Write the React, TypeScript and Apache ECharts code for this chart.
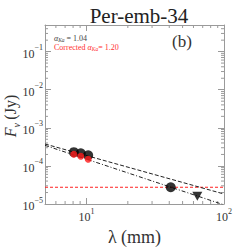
import React, { useEffect, useRef } from "react";
import * as echarts from "echarts";

// ---- data ----
const kaWavelength = [8.1, 9.1, 10.3]; // mm
const kaFlux = [2.3e-4, 2.15e-4, 1.9e-4]; // Jy
const kaFluxCorrected = [2.03e-4, 1.8e-4, 1.5e-4]; // Jy
const cBandWavelength = [41];
const cBandFlux = [2.75e-5];
const upperLimitWavelength = [64];
const upperLimitFlux = [1.6e-5];
const fitLambda = [5, 100];
const fitFlux = [3.76e-4, 1.83e-5]; // alpha = 1.04
const correctedFitFlux = [3.46e-4, 9.5e-6]; // alpha = 1.20
const freeFreeLevel = 2.75e-5;

const xMin = 5;
const xMax = 100;
const yMin = 1e-5;
const yMax = 0.5;

const mantissas = [2, 3, 4, 5, 6, 7, 8, 9];
const xDecades = [1, 10];
const yDecades = [1e-5, 1e-4, 1e-3, 1e-2, 1e-1];

const SERIF = "'Liberation Serif', 'DejaVu Serif', serif";
const AXIS_COLOR = "#9a9a9a";
const TEXT_COLOR = "#333";

function powLabel(v: number): string {
  const e = Math.round(Math.log10(v));
  const p = Math.pow(10, e);
  if (Math.abs(v - p) / p > 1e-6) return "";
  return `{a|10}{b|${e < 0 ? "\u2212" : ""}${Math.abs(e)}}`;
}

const labelRich = {
  a: { fontSize: 12, fontFamily: SERIF, color: TEXT_COLOR, lineHeight: 16, verticalAlign: "bottom" as const },
  b: { fontSize: 8, fontFamily: SERIF, color: TEXT_COLOR, verticalAlign: "top" as const },
};

export default function App() {
  const ref = useRef<HTMLDivElement>(null);
  useEffect(() => {
    if (!ref.current) return;
    const chart = echarts.init(ref.current, null, { renderer: "svg" });

    const minorX: number[][] = [];
    xDecades.forEach((d) =>
      mantissas.forEach((m) => {
        const v = m * d;
        if (v > xMin && v < xMax) minorX.push([v, yMin]);
      })
    );
    const minorY: number[][] = [];
    yDecades.forEach((d) =>
      mantissas.forEach((m) => {
        const v = m * d;
        if (v > yMin && v < yMax) minorY.push([xMin, v]);
      })
    );

    const tickStyle = { stroke: AXIS_COLOR, lineWidth: 1 };

    const baseX = {
      type: "log" as const,
      min: xMin,
      max: xMax,
      logBase: 10,
      splitLine: { show: false },
      axisLine: { show: true, lineStyle: { color: AXIS_COLOR, width: 1 } },
      axisTick: { show: true, inside: true, length: 6, lineStyle: { color: AXIS_COLOR } },
    };
    const baseY = {
      type: "log" as const,
      min: yMin,
      max: yMax,
      logBase: 10,
      splitLine: { show: false },
      axisLine: { show: true, lineStyle: { color: AXIS_COLOR, width: 1 } },
      axisTick: { show: true, inside: true, length: 6, lineStyle: { color: AXIS_COLOR } },
    };

    const annRich = (fill: string) => ({
      g: { fontFamily: SERIF, fontSize: 8, fontStyle: "italic", fill, lineHeight: 9 },
      gs: { fontFamily: SERIF, fontSize: 5.5, fontStyle: "italic", fill, verticalAlign: "bottom" },
      t: { fontFamily: SERIF, fontSize: 8, fill, lineHeight: 9 },
    });

    chart.setOption({
      animation: false,
      title: {
        text: "Per-emb-34",
        left: 134,
        textAlign: "center",
        top: 0,
        textStyle: { fontFamily: SERIF, fontSize: 21, fontWeight: "normal", color: "#222" },
      },
      grid: { left: 45, right: 25, top: 25, bottom: 45, containLabel: false, outerBoundsMode: "none" },
      xAxis: [
        {
          ...baseX,
          position: "bottom",
          name: "\u03bb (mm)",
          nameLocation: "middle",
          nameGap: 22,
          nameTextStyle: { fontFamily: SERIF, fontSize: 18, color: TEXT_COLOR },
          axisLabel: { show: true, margin: 3, formatter: powLabel, rich: labelRich, showMinLabel: true, showMaxLabel: true },
        },
        { ...baseX, position: "top", axisLabel: { show: false } },
      ],
      yAxis: [
        {
          ...baseY,
          position: "left",
          axisLabel: { show: true, margin: 2, formatter: powLabel, rich: labelRich },
        },
        { ...baseY, position: "right", axisLabel: { show: false } },
      ],
      graphic: [
        {
          type: "text",
          x: 12,
          y: 116,
          rotation: Math.PI / 2,
          style: {
            text: "{i|F}{s|\u03bd} {n|(Jy)}",
            align: "center",
            verticalAlign: "middle",
            rich: {
              i: { fontFamily: SERIF, fontSize: 16, fontStyle: "italic", fill: TEXT_COLOR, lineHeight: 19, verticalAlign: "top" },
              s: { fontFamily: SERIF, fontSize: 10, fontStyle: "italic", fill: TEXT_COLOR, verticalAlign: "bottom" },
              n: { fontFamily: SERIF, fontSize: 16, fill: TEXT_COLOR, lineHeight: 19, verticalAlign: "top" },
            },
          },
        },
        {
          type: "text",
          left: 172,
          top: 33,
          style: { text: "(b)", fontFamily: SERIF, fontSize: 17, fill: "#333" },
        },
        {
          type: "text",
          left: 54,
          top: 34,
          style: { text: "{g|\u03b1}{gs|Ka}{t| = 1.04}", rich: annRich("#444") },
        },
        {
          type: "text",
          left: 54,
          top: 43.5,
          style: { text: "{t|Corrected }{g|\u03b1}{gs|Ka}{t|= 1.20}", rich: annRich("#ff3030") },
        },
      ],
      series: [
        {
          type: "custom",
          silent: true,
          encode: { x: 0, y: 1 },
          data: minorX,
          renderItem: (_p: any, api: any) => {
            const v = api.value(0);
            const b = api.coord([v, yMin]);
            const t = api.coord([v, yMax]);
            return {
              type: "group",
              children: [
                { type: "line", shape: { x1: b[0], y1: b[1], x2: b[0], y2: b[1] - 3 }, style: tickStyle },
                { type: "line", shape: { x1: t[0], y1: t[1], x2: t[0], y2: t[1] + 3 }, style: tickStyle },
              ],
            };
          },
        },
        {
          type: "custom",
          silent: true,
          encode: { x: 0, y: 1 },
          data: minorY,
          renderItem: (_p: any, api: any) => {
            const v = api.value(1);
            const l = api.coord([xMin, v]);
            const r = api.coord([xMax, v]);
            return {
              type: "group",
              children: [
                { type: "line", shape: { x1: l[0], y1: l[1], x2: l[0] + 3, y2: l[1] }, style: tickStyle },
                { type: "line", shape: { x1: r[0], y1: r[1], x2: r[0] - 3, y2: r[1] }, style: tickStyle },
              ],
            };
          },
        },
        {
          type: "line",
          data: fitLambda.map((x) => [x, freeFreeLevel]),
          symbol: "none",
          lineStyle: { color: "#ff2020", width: 1, type: [3, 2] },
          z: 2,
        },
        {
          type: "line",
          data: fitLambda.map((x, i) => [x, fitFlux[i]]),
          symbol: "none",
          lineStyle: { color: "#222", width: 1, type: [4, 2] },
          z: 2,
        },
        {
          type: "line",
          data: fitLambda.map((x, i) => [x, correctedFitFlux[i]]),
          symbol: "none",
          lineStyle: { color: "#222", width: 1, type: [4, 2, 1, 2] },
          z: 2,
        },
        {
          type: "scatter",
          data: kaWavelength.map((x, i) => [x, kaFlux[i]]),
          symbol: "circle",
          symbolSize: 10,
          itemStyle: { color: "#000" },
          z: 3,
        },
        {
          type: "scatter",
          data: cBandWavelength.map((x, i) => [x, cBandFlux[i]]),
          symbol: "circle",
          symbolSize: 10,
          itemStyle: { color: "#000" },
          z: 3,
        },
        {
          type: "scatter",
          data: upperLimitWavelength.map((x, i) => [x, upperLimitFlux[i]]),
          symbol: "triangle",
          symbolRotate: 180,
          symbolSize: [10, 9],
          itemStyle: { color: "#000" },
          z: 3,
        },
        {
          type: "scatter",
          data: kaWavelength.map((x, i) => [x, kaFluxCorrected[i]]),
          symbol: "circle",
          symbolSize: 7,
          itemStyle: { color: "#ff1a1a" },
          z: 4,
        },
      ],
    });
    return () => chart.dispose();
  }, []);
  return <div ref={ref} style={{ width: 249, height: 249, position: "absolute", left: 0, top: 0 }} />;
}
